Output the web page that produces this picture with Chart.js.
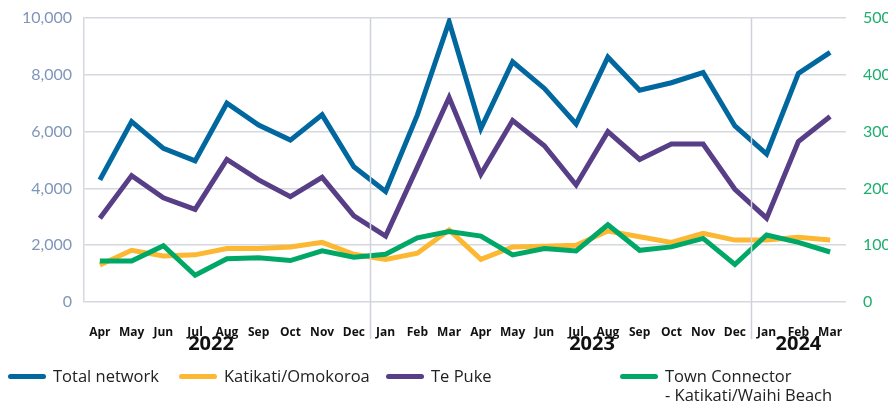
<!DOCTYPE html>
<html>
<head>
<meta charset="utf-8">
<script src="https://cdn.jsdelivr.net/npm/chart.js@4.4.1/dist/chart.umd.min.js"></script>
<style>
  html, body { margin: 0; padding: 0; background: #fff; }
  #wrap { position: relative; width: 888px; height: 403px; }
  #legend { position: absolute; left: 0; top: 366px; width: 888px; font-family: "Open Sans", Lato, sans-serif; font-size: 16.5px; color: #222; }
  .item { position: absolute; top: 0; display: flex; align-items: flex-start; line-height: 19px; }
  .swatch { width: 38px; height: 5px; border-radius: 3px; margin-top: 8px; margin-right: 7px; }
</style>
</head>
<body>
<div id="wrap">
  <canvas id="myChart" width="888" height="403"></canvas>
  <div id="legend"></div>
</div>
<script>
// months Apr 2022 - Mar 2024
var months = ['Apr', 'May', 'Jun', 'Jul', 'Aug', 'Sep', 'Oct', 'Nov', 'Dec', 'Jan', 'Feb', 'Mar',
              'Apr', 'May', 'Jun', 'Jul', 'Aug', 'Sep', 'Oct', 'Nov', 'Dec', 'Jan', 'Feb', 'Mar'];
var years = ['2022', '2023', '2024'];
var yearAnchors = [3.5, 15.5, 22];     // category index the year label sits under
var yearStarts = [9, 21];              // first month of a new year (separator line)

var totalNetwork = [4300, 6350, 5410, 4970, 7000, 6230, 5700, 6590, 4760, 3890, 6590, 9870,
                    6110, 8460, 7520, 6270, 8620, 7460, 7720, 8080, 6200, 5210, 8050, 8790];
var tePuke = [2950, 4450, 3670, 3260, 5020, 4300, 3710, 4390, 3030, 2320, 4750, 7200,
              4500, 6390, 5500, 4120, 6000, 5020, 5560, 5560, 3970, 2950, 5650, 6530];
var katikati = [65, 91, 81, 83, 94, 94, 97, 105, 84, 75, 86, 127,
                75, 97, 98, 100, 125, 115, 105, 121, 109, 109, 114, 109];
var townConnector = [72, 72, 99, 47, 76, 78, 73, 90, 79, 84, 113, 124,
                     116, 83, 94, 90, 136, 91, 97, 112, 66, 118, 105, 88];

var leftTicks = [0, 2000, 4000, 6000, 8000, 10000];
var rightTicks = [0, 100, 200, 300, 400, 500];

var series = [
    { label: 'Total network', data: totalNetwork, color: '#00679f', axis: 'y', order: 2, left: 8 },
    { label: 'Katikati/Omokoroa', data: katikati, color: '#fdb833', axis: 'y1', order: 3, left: 179 },
    { label: 'Te Puke', data: tePuke, color: '#573e87', axis: 'y', order: 1, left: 386 },
    { label: 'Town Connector\n- Katikati/Waihi Beach', data: townConnector, color: '#00a867', axis: 'y1', order: 0, left: 620 }
];

var yearPlugin = {
    id: 'years',
    afterDraw: function (chart) {
        var ctx = chart.ctx;
        var x = chart.scales.x;
        var half = (x.getPixelForValue(1) - x.getPixelForValue(0)) / 2;
        ctx.save();
        ctx.strokeStyle = '#cfd2d8';
        ctx.lineWidth = 1.5;
        for (var i = 0; i < yearStarts.length; i++) {
            var px = Math.round(x.getPixelForValue(yearStarts[i]) - half) + 0.5;
            ctx.beginPath();
            ctx.moveTo(px, chart.chartArea.top);
            ctx.lineTo(px, 339);
            ctx.stroke();
        }
        ctx.fillStyle = '#111';
        ctx.font = 'bold 20px "Open Sans", Lato, sans-serif';
        ctx.textAlign = 'center';
        ctx.textBaseline = 'middle';
        for (var j = 0; j < years.length; j++) {
            var a = yearAnchors[j];
            var p = x.getPixelForValue(Math.floor(a));
            if (a % 1) p = (p + x.getPixelForValue(Math.ceil(a))) / 2;
            ctx.fillText(years[j], p, 344);
        }
        ctx.restore();
    }
};

function fitY(width) {
    return function (scale) {
        scale.width = width;
        scale.paddingTop = 0;
        scale.paddingBottom = 0;
    };
}

var ctx = document.getElementById('myChart').getContext('2d');
var myChart = new Chart(ctx, {
    type: 'line',
    data: {
        labels: months,
        datasets: series.map(function (s) {
            return {
                label: s.label,
                data: s.data,
                borderColor: s.color,
                backgroundColor: s.color,
                borderWidth: 5,
                pointRadius: 0,
                tension: 0,
                yAxisID: s.axis,
                order: s.order
            };
        })
    },
    options: {
        responsive: false,
        animation: false,
        layout: { padding: { top: 18, left: 0, right: 0, bottom: 0 } },
        plugins: { legend: { display: false }, tooltip: { enabled: false } },
        scales: {
            x: {
                offset: true,
                grid: { display: false },
                border: { display: false },
                ticks: {
                    color: '#111',
                    font: { family: '"Open Sans", Lato, sans-serif', size: 12, weight: 'bold' },
                    padding: 15,
                    maxRotation: 0,
                    autoSkip: false
                },
                afterFit: function (scale) { scale.height = 101; }
            },
            y: {
                position: 'left',
                min: 0,
                max: 10000,
                afterBuildTicks: function (scale) { scale.ticks = leftTicks.map(function (v) { return { value: v }; }); },
                grid: { color: '#d6d8dd', lineWidth: 1.5, drawTicks: false },
                border: { display: true, color: '#d6d8dd', width: 1.5 },
                ticks: {
                    color: '#7f96b9',
                    font: { family: 'Lato, sans-serif', size: 16 },
                    padding: 12,
                    callback: function (v) { return v.toLocaleString('en-US'); }
                },
                afterFit: fitY(84)
            },
            y1: {
                position: 'right',
                min: 0,
                max: 500,
                afterBuildTicks: function (scale) { scale.ticks = rightTicks.map(function (v) { return { value: v }; }); },
                grid: { display: false },
                border: { display: false },
                ticks: {
                    color: '#1fae6e',
                    font: { family: 'Lato, sans-serif', size: 16 },
                    padding: 9
                },
                afterFit: fitY(42)
            }
        }
    },
    plugins: [yearPlugin]
});

// legend laid out like the original
var legend = document.getElementById('legend');
series.forEach(function (s) {
    var item = document.createElement('div');
    item.className = 'item';
    item.style.left = s.left + 'px';
    var sw = document.createElement('span');
    sw.className = 'swatch';
    sw.style.background = s.color;
    var txt = document.createElement('span');
    txt.innerHTML = s.label.split('\n').join('<br>');
    item.appendChild(sw);
    item.appendChild(txt);
    legend.appendChild(item);
});
</script>
</body>
</html>
